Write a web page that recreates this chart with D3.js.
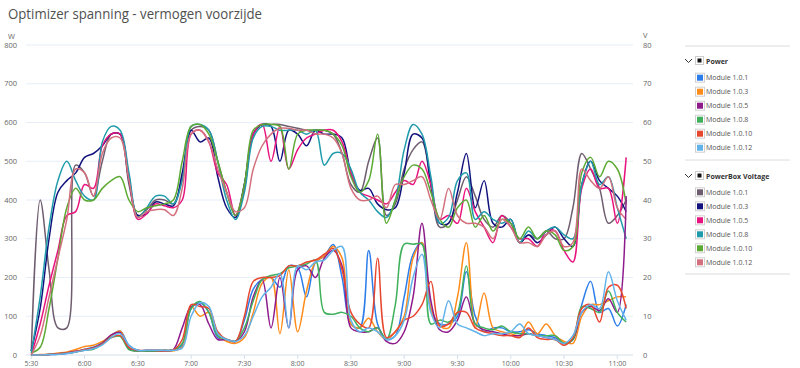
<!DOCTYPE html>
<html>
<head>
<meta charset="utf-8">
<script src="https://cdn.jsdelivr.net/npm/d3@7"></script>
<style>
  body { margin: 0; background: #fff; }
  svg { display: block; font-family: "Open Sans", "Noto Sans", sans-serif; }
</style>
</head>
<body>
<div id="chart"></div>
<script>
const times = ["5:30","5:35","5:40","5:45","5:50","5:55","6:00","6:05","6:10","6:15","6:20","6:25",
  "6:30","6:35","6:40","6:45","6:50","6:55","7:00","7:05","7:10","7:15","7:20","7:25",
  "7:30","7:35","7:40","7:45","7:50","7:55","8:00","8:05","8:10","8:15","8:20","8:25",
  "8:30","8:35","8:40","8:45","8:50","8:55","9:00","9:05","9:10","9:15","9:20","9:25",
  "9:30","9:35","9:40","9:45","9:50","9:55","10:00","10:05","10:10","10:15","10:20","10:25",
  "10:30","10:35","10:40","10:45","10:50","10:55","11:00","11:05"];

const tickLabels = ["5:30","6:00","6:30","7:00","7:30","8:00","8:30","9:00","9:30","10:00","10:30","11:00"];
const leftTicks = [0, 100, 200, 300, 400, 500, 600, 700, 800];
const rightTicks = [0, 10, 20, 30, 40, 50, 60, 70, 80];

// Power (W)
const p101 = [0,0,1,2,4,8,15,20,32,50,62,25,12,12,12,12,13,25,120,135,110,45,40,35,
  90,170,195,200,175,230,225,150,240,255,285,200,80,70,270,80,40,50,150,260,290,120,80,80,
  100,215,100,60,70,70,60,60,65,55,50,45,30,40,130,190,110,120,75,130];
const p103 = [0,1,2,5,8,14,22,25,35,50,62,18,10,10,10,10,11,20,125,100,110,50,35,30,
  45,110,185,200,55,220,60,165,240,255,280,250,80,70,95,60,40,60,100,250,290,120,75,70,
  150,290,70,160,70,60,55,50,85,55,80,50,35,30,100,130,130,140,150,150];
const p105 = [0,0,1,3,5,10,12,18,30,52,58,15,10,10,11,11,14,70,125,130,80,40,40,35,
  60,150,195,70,200,70,220,230,200,250,270,230,70,60,60,70,35,30,60,150,340,140,65,60,
  90,150,80,65,60,55,50,50,55,50,45,40,30,40,110,125,115,145,110,410];
const p108 = [0,0,1,3,5,8,12,15,28,45,48,14,10,10,11,12,13,30,120,138,110,50,40,36,
  70,140,195,205,210,225,230,235,245,110,105,110,100,70,60,70,40,130,286,286,286,80,90,85,
  110,230,80,70,65,75,60,55,55,50,50,50,30,40,125,120,110,165,110,85];
const p1010 = [0,0,1,3,5,9,14,18,28,45,50,20,12,12,12,12,13,40,130,125,120,60,40,35,
  100,190,200,200,205,230,230,240,245,260,275,220,110,80,70,250,45,60,90,100,130,190,75,80,
  110,110,70,60,55,50,50,45,70,45,40,40,25,45,120,130,85,175,180,120];
const p1012 = [0,0,1,2,4,8,12,16,26,45,55,25,12,12,12,12,12,18,100,135,125,55,40,35,
  50,100,150,175,210,70,230,220,240,245,270,280,90,60,70,60,40,50,90,200,260,110,70,140,
  80,70,60,50,55,55,60,80,55,50,45,40,30,50,110,130,120,215,140,90];

// PowerBox Voltage (V)
const v101 = [1,40,22,7,7,49,47,41,50,57,57,44,36,37.5,40,40,39,46,58,59,58,50,42,36,
  44,57,59.5,59.5,59.5,59,58.5,58,58,58,57,52,44,42,50,56,36,39,48,53,55,44,33,34,
  40,46,41,35,33,36,34,29,31,30,32,30,30,38,52,48,43,34,36,40];
const v103 = [1,12,30,42,45,47,51,52,54,57,57,45,36,36.5,39.5,39,38.5,47,58,55,56,46,38,35.5,
  44,57,59.5,59,50,58,57,54,58,57,57,56,47,42.5,43,39,37.5,38,47,57,56,44,34,34,
  42,52,38,45,34,33,35,29,31,29,31,33,30,28,44,50,45,43,41,37];
const v105 = [0,8,18,27,36,37,44,43,54,57,57,46,35,36.5,39,38.5,38,40,57,58,55,47,44,36,
  43,57,59.5,50,59,48,53,56,57,58,58,55,47,42,41,40,39,42,45,44,50,44,35,36,
  34,43,37,33,29,36,33,30,30,28,32,32,27,24,43,48,43,43,34,51];
const v108 = [0.5,15,33,45,50,45,41,40,55,59,58,47,35.5,38,41,41,39,45,59,59.5,58,50,40,35,
  42,56,59,59,58,58,58,57,58,49,52,52,48,42,40,37,35.5,40,53,59.5,57,46,34,35.5,
  45,47,35,37,35,34,35,29,32,30,32,33,31,30,44,50,44,46,38,30];
const v1010 = [0.5,2,12,25,38,43,40,40,43,45,46,40,37,38,38.5,39,40,50,59,59.5,57,50,42,36,
  44,58,59.5,59.5,59,48,57,58,58,58,57,54,46,42,45,57,34,40,46,49,48,42,35,33,
  38,40,33,36,32,35,34,30,33,30,32,31,27,28,47,51,46,50,48,39];
const v1012 = [0,5,15,25,35,48,47,41,52,56,56,45,35.5,37,37.5,37.5,36,43,57,58,55,48,42,37,
  38,48,54,57,58.5,58.5,58,58,57,57,56,52,43,40,40,41,38,44,44,45,46,40,35,43,
  36,34,34,33,30,35,33,29,29,28,31,32,28,29,48,45,43,46,38,35];

const powerNames = ["Module 1.0.1","Module 1.0.3","Module 1.0.5","Module 1.0.8","Module 1.0.10","Module 1.0.12"];
const powerColors = ["#2b7de9","#ff8c1a","#8e1b8c","#3fb05c","#e8472f","#62b3ea"];
const voltNames = ["Module 1.0.1","Module 1.0.3","Module 1.0.5","Module 1.0.8","Module 1.0.10","Module 1.0.12"];
const voltColors = ["#6e5d6e","#12127e","#e8137e","#1f9bab","#5caa34","#d3707e"];

const powerSeries = [p101, p103, p105, p108, p1010, p1012];
const voltSeries = [v101, v103, v105, v108, v1010, v1012];

const width = 800, height = 368;
const parse = d3.timeParse("%H:%M");
const fmt = d3.timeFormat("%-H:%M");
const T = times.map(parse);

const x = d3.scaleTime()
  .domain([parse("5:30"), parse("11:00")])
  .range([31.3, 617.3]);
const yW = d3.scaleLinear().domain([0, 800]).range([355, 45]);
const yV = d3.scaleLinear().domain([0, 80]).range([355, 45]);

const svg = d3.select("#chart").append("svg")
  .attr("width", width)
  .attr("height", height);

svg.append("text")
  .attr("x", 8).attr("y", 19)
  .attr("font-size", 15)
  .attr("textLength", 254)
  .attr("lengthAdjust", "spacingAndGlyphs")
  .attr("fill", "#505050")
  .text("Optimizer spanning - vermogen voorzijde");

// grid
svg.append("g").selectAll("line")
  .data(leftTicks.filter(d => d > 0))
  .join("line")
    .attr("x1", 26).attr("x2", 633)
    .attr("y1", d => yW(d)).attr("y2", d => yW(d))
    .attr("stroke", "#e6eef7");

// x axis
const xAxis = svg.append("g").attr("transform", "translate(0,355)");
xAxis.append("line").attr("x1", 26).attr("x2", 633).attr("stroke", "#d6dfe9").attr("stroke-width", 1.2);
xAxis.selectAll(".tk")
  .data(tickLabels.map(parse))
  .join("g")
    .attr("transform", d => `translate(${x(d)},0)`)
    .call(g => g.append("line").attr("y2", 4).attr("stroke", "#d6dfe9"))
    .call(g => g.append("text").attr("y", 11).attr("text-anchor", "middle")
      .attr("font-size", 7).attr("fill", "#666").text(fmt));

// left axis
svg.append("g").selectAll("text")
  .data(leftTicks)
  .join("text")
    .attr("x", 17).attr("y", d => yW(d) + 2.5)
    .attr("text-anchor", "end").attr("font-size", 7.5).attr("fill", "#666")
    .text(d => d);
svg.append("text").attr("x", 8).attr("y", 39).attr("font-size", 7.5).attr("fill", "#666").text("W");

// right axis
svg.append("g").selectAll("text")
  .data(rightTicks)
  .join("text")
    .attr("x", 643).attr("y", d => yV(d) + 2.5)
    .attr("font-size", 7.5).attr("fill", "#666")
    .text(d => d);
svg.append("text").attr("x", 643).attr("y", 38).attr("font-size", 7.5).attr("fill", "#666").text("V");

const curve = d3.curveCatmullRom.alpha(0.5);
const lineW = d3.line().x((d, i) => x(T[i])).y(d => yW(d)).curve(curve);
const lineV = d3.line().x((d, i) => x(T[i])).y(d => yV(d)).curve(curve);

svg.append("g").selectAll("path")
  .data(voltSeries)
  .join("path")
    .attr("d", lineV)
    .attr("fill", "none")
    .attr("stroke", (d, i) => voltColors[i])
    .attr("stroke-width", 1.5);

svg.append("g").selectAll("path")
  .data(powerSeries)
  .join("path")
    .attr("d", lineW)
    .attr("fill", "none")
    .attr("stroke", (d, i) => powerColors[i])
    .attr("stroke-width", 1.5);

// legend
const legend = svg.append("g").attr("font-size", 7).attr("fill", "#555");
const sep = y => legend.append("line").attr("x1", 685).attr("x2", 790)
  .attr("y1", y).attr("y2", y).attr("stroke", "#dcdcdc");

const group = (title, names, colors, y0, yItem) => {
  legend.append("path")
    .attr("d", `M685,${y0 - 2}l3.5,3.5l3.5,-3.5`)
    .attr("fill", "none").attr("stroke", "#333").attr("stroke-width", 1);
  legend.append("rect").attr("x", 695.5).attr("y", y0 - 4.5).attr("width", 8).attr("height", 8)
    .attr("fill", "#fff").attr("stroke", "#ccc");
  legend.append("rect").attr("x", 697.5).attr("y", y0 - 2.5).attr("width", 4).attr("height", 4)
    .attr("fill", "#111");
  legend.append("text").attr("x", 706).attr("y", y0 + 2.5)
    .attr("font-weight", "bold").attr("fill", "#333").text(title);
  const items = legend.append("g").selectAll("g")
    .data(names)
    .join("g")
      .attr("transform", (d, i) => `translate(0,${yItem + i * 14})`);
  items.append("rect").attr("x", 695.5).attr("y", -4.5).attr("width", 9).attr("height", 9)
    .attr("fill", "#fff").attr("stroke", "#d0d0d0");
  items.append("rect").attr("x", 697).attr("y", -3).attr("width", 6).attr("height", 6)
    .attr("fill", (d, i) => colors[i]);
  items.append("text").attr("x", 706).attr("y", 2.5).text(d => d);
};

sep(46);
group("Power", powerNames, powerColors, 61, 77.7);
sep(160);
group("PowerBox Voltage", voltNames, voltColors, 176, 192.3);
sep(274);
</script>
</body>
</html>
